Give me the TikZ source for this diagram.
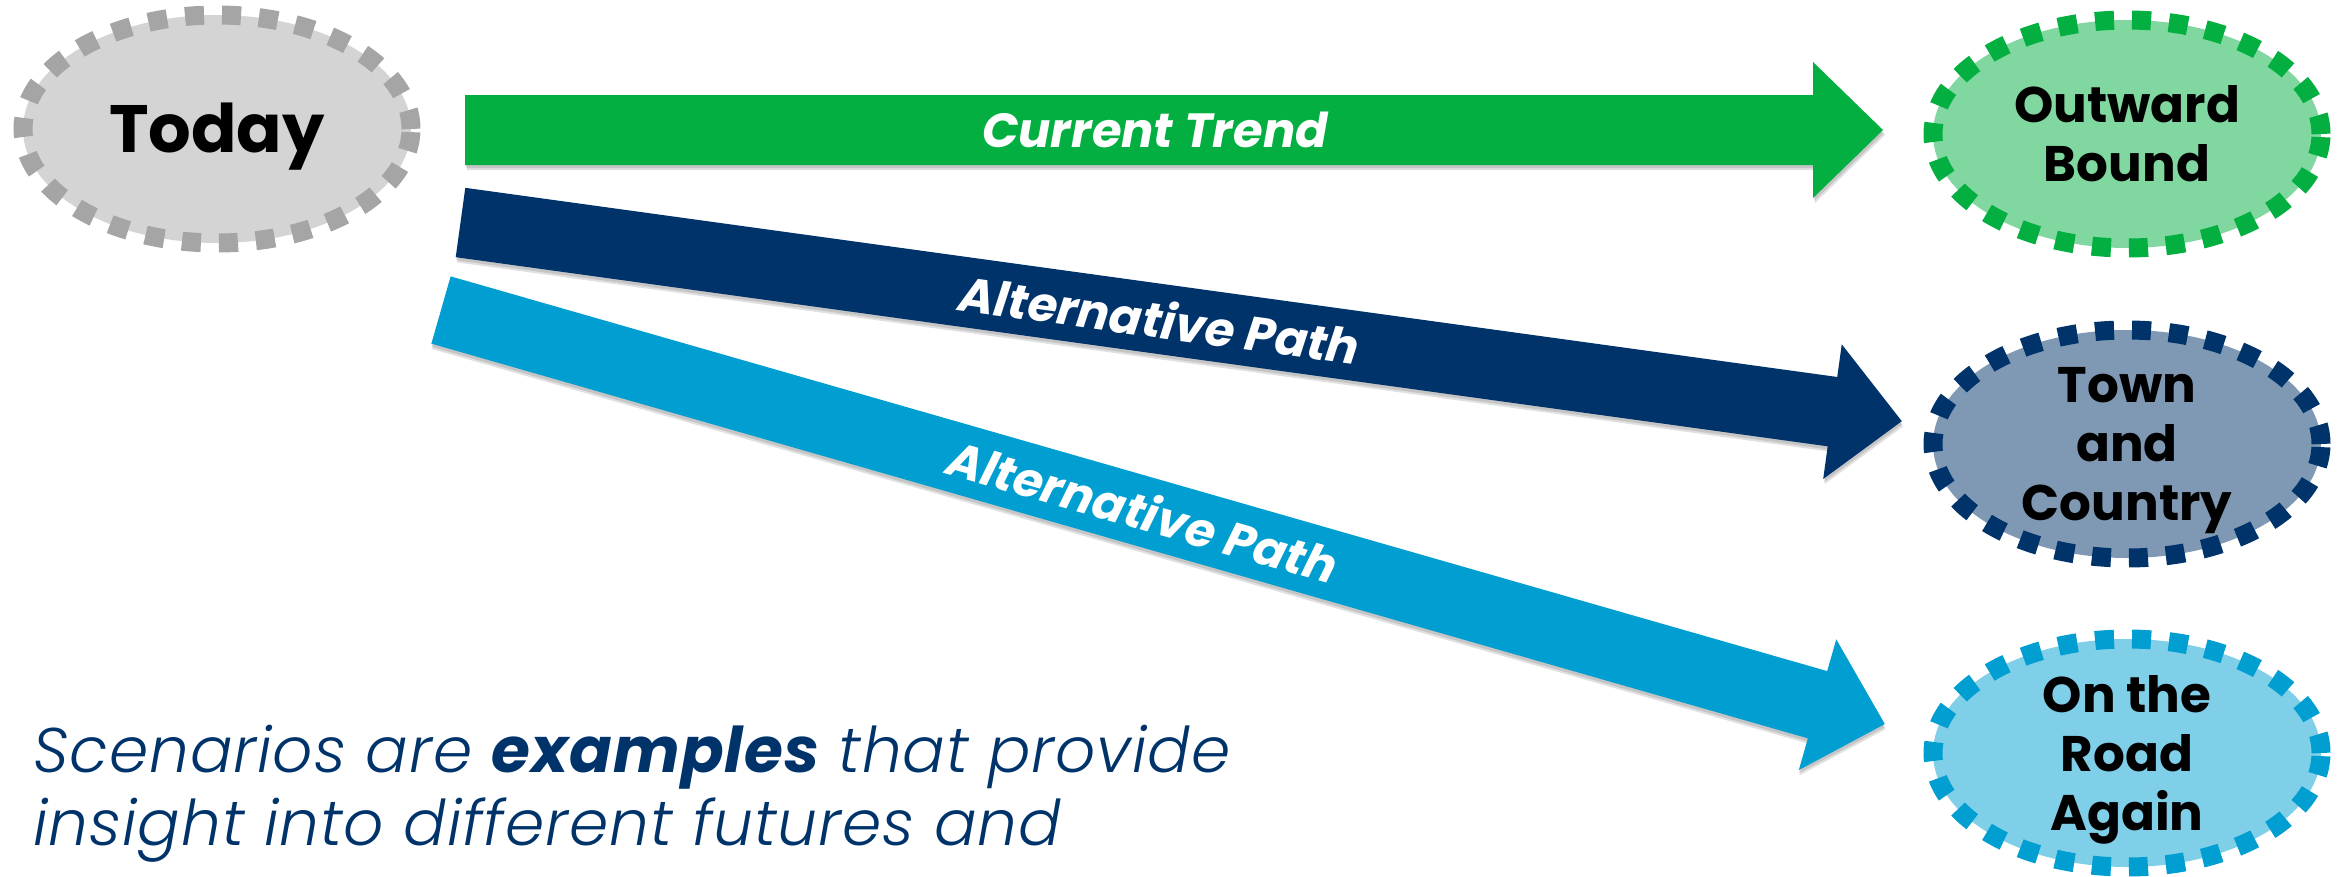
\documentclass[tikz,border=0pt]{standalone}
\usepackage{fontspec}
\setmainfont{Poppins}
\newfontfamily\poplight{Poppins}[UprightFont={* Light},ItalicFont={* Light Italic},BoldItalicFont={* Bold Italic},LetterSpace=1.5]
\definecolor{grayfill}{HTML}{D4D4D4}
\definecolor{graydash}{HTML}{A5A5A5}
\definecolor{greenarr}{HTML}{03AF41}
\definecolor{greenfill}{HTML}{81D7A0}
\definecolor{navyarr}{HTML}{00336A}
\definecolor{navyfill}{HTML}{7F99B5}
\definecolor{bluearr}{HTML}{009ED1}
\definecolor{bluefill}{HTML}{80CFE8}
\usetikzlibrary{shapes.geometric}
\tikzset{
  scen/.style={ellipse, inner sep=0pt, minimum width=388pt, minimum height=228pt,
    line width=19pt, dash pattern=on 19pt off 18pt},
  scenlbl/.style={inner sep=0pt, align=center, font=\fontsize{50}{59}\selectfont\bfseries},
  arrlbl/.style={inner sep=0pt, text=white, font=\fontsize{48}{58}\selectfont\bfseries\itshape},
  notetext/.style={inner sep=0pt, anchor=base west, text=navyarr, font=\fontsize{63}{73}\selectfont\poplight\itshape},
  arrowshape/.style={insert path={(0,-35) -- ({#1-70},-35) -- ({#1-70},-68) -- (#1,0) -- ({#1-70},68) -- ({#1-70},35) -- (0,35) -- cycle}},
  shadowA/.style={fill=black, fill opacity=0.12, shift={(2pt,-5pt)}},
  shadowB/.style={fill=black, fill opacity=0.12, shift={(1pt,-3pt)}},
}
\begin{document}
\begin{tikzpicture}[x=1pt,y=-1pt]
\useasboundingbox (0,0) rectangle (2338,876);
% scenario ellipses
\node[scen, fill=grayfill, draw=graydash] (today) at (217,129) {};
\node[scen, fill=greenfill, draw=greenarr] (outward) at (2127,134) {};
\node[scen, fill=navyfill, draw=navyarr] (town) at (2127,444) {};
\node[scen, fill=bluefill, draw=bluearr] (road) at (2127,753) {};
\node[inner sep=0pt, anchor=base, font=\fontsize{67}{80}\selectfont\bfseries] (todayt) at (217,152) {Today};
\node[scenlbl] (outwardt) at (outward) {Outward\\Bound};
\node[scenlbl] (townt) at (2127,451) {Town\\and\\Country};
\node[scenlbl] (roadt) at (2127,760) {On the\\Road\\Again};
% arrows
\coordinate (gstart) at (465,130);
\coordinate (nstart) at (460.5,222.5);
\coordinate (bstart) at (441,310);
\begin{scope}[shift={(gstart)}]
  \path[shadowA, arrowshape=1418];
  \path[shadowB, arrowshape=1418];
  \fill[greenarr, arrowshape=1418];
\end{scope}
\begin{scope}[shift={(nstart)}, rotate=-7.85]
  \path[shadowA, arrowshape=1455];
  \path[shadowB, arrowshape=1455];
  \fill[navyarr, arrowshape=1455];
\end{scope}
\begin{scope}[shift={(bstart)}, rotate=-16]
  \path[shadowA, arrowshape=1502];
  \path[shadowB, arrowshape=1502];
  \fill[bluearr, arrowshape=1502];
\end{scope}
\node[arrlbl] (glbl) at (1155,130) {Current Trend};
\node[arrlbl, rotate=-7.85] (nlbl) at (1160,319) {Alternative Path};
\node[arrlbl, rotate=-16] (blbl) at (1143,511) {Alternative Path};
% note
\node[notetext] (note1) at (33,772) {Scenarios are \textbf{examples} that provide};
\node[notetext] (note2) at (33,845) {insight into different futures and};
\end{tikzpicture}
\end{document}
